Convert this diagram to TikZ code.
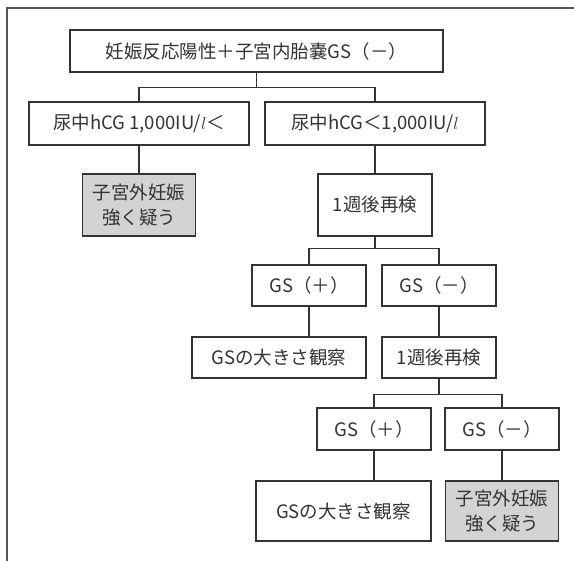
\documentclass[tikz,border=0pt]{standalone}
\usepackage{fontspec}
\newfontfamily\jpfont{Noto Sans CJK JP}
\definecolor{ink}{HTML}{333333}
\definecolor{frameline}{HTML}{555555}
\definecolor{greyfill}{HTML}{D3D3D3}
\begin{document}
\begin{tikzpicture}[x=1bp,y=-1bp,
  box/.style={draw=ink, line width=1.1bp, inner sep=0pt, text=ink,
    font=\jpfont\fontsize{18.5bp}{25bp}\selectfont, align=center},
  greybox/.style={box, fill=greyfill},
  conn/.style={draw=ink, line width=1.1bp},
  framestyle/.style={draw=frameline, line width=1.6bp}]
\useasboundingbox (0,0) rectangle (574,561);
\draw[framestyle] (7,561) -- (7,8) -- (574,8);
% row 0
\node[box, minimum width=373bp, minimum height=42bp] (top) at (256.5,51) {妊娠反応陽性＋子宮内胎嚢GS（－）};
% row 1
\node[box, minimum width=220bp, minimum height=43bp] (a) at (139,123.5) {尿中hCG 1,000IU/$l$＜};
\node[box, minimum width=220bp, minimum height=43bp] (b) at (375,123.5) {尿中hCG＜1,000IU/$l$};
% row 2
\node[greybox, minimum width=113bp, minimum height=62bp] (g1) at (139,205) {子宮外妊娠\\強く疑う};
\node[box, minimum width=114bp, minimum height=62bp] (w1) at (375,205) {1週後再検};
% row 3
\node[box, minimum width=114bp, minimum height=41bp] (p1) at (309,285.5) {GS（＋）};
\node[box, minimum width=114bp, minimum height=41bp] (n1) at (439,285.5) {GS（－）};
% row 4
\node[box, minimum width=174bp, minimum height=41bp] (o1) at (279,357.5) {GSの大きさ観察};
\node[box, minimum width=114bp, minimum height=41bp] (w2) at (439,357.5) {1週後再検};
% row 5
\node[box, minimum width=114bp, minimum height=42bp] (p2) at (374,429) {GS（＋）};
\node[box, minimum width=114bp, minimum height=42bp] (n2) at (502,429) {GS（－）};
% row 6
\node[box, minimum width=175bp, minimum height=60bp] (o2) at (343.5,511) {GSの大きさ観察};
\node[greybox, minimum width=113bp, minimum height=60bp] (g2) at (502,511) {子宮外妊娠\\強く疑う};
% connectors
\draw[conn] (top.south) -- ++(0,15) coordinate (j1);
\draw[conn] (a.north) |- (j1) -| (b.north);
\draw[conn] (a.south) -- (g1.north);
\draw[conn] (b.south) -- (w1.north);
\draw[conn] (w1.south) -- ++(0,12) coordinate (j2);
\draw[conn] (p1.north) |- (j2) -| (n1.north);
\draw[conn] (p1.south) -- (p1.south |- o1.north);
\draw[conn] (n1.south) -- (w2.north);
\draw[conn] (w2.south) -- ++(0,16) coordinate (j3);
\draw[conn] (p2.north) |- (j3) -| (n2.north);
\draw[conn] (p2.south) -- (p2.south |- o2.north);
\draw[conn] (n2.south) -- (g2.north);
\end{tikzpicture}
\end{document}
